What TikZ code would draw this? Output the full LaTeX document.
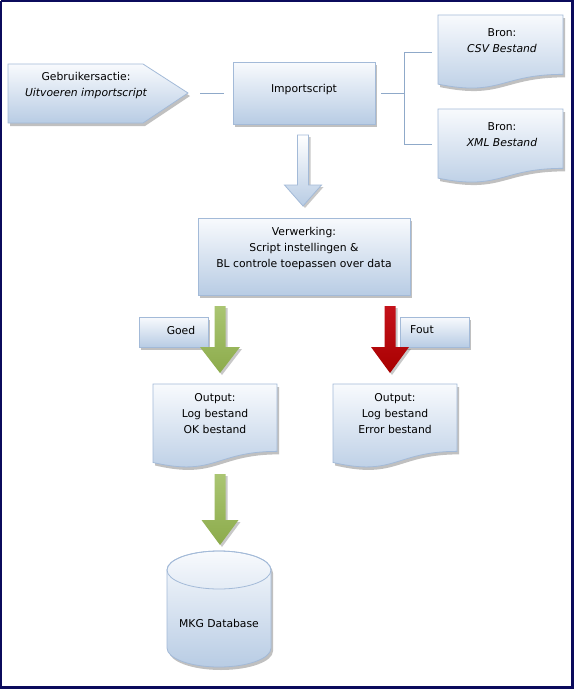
\documentclass[tikz,border=0pt]{standalone}
\usepackage{fontspec}
\setmainfont{DejaVu Sans}
\usetikzlibrary{shadows,calc}
\definecolor{navy}{HTML}{0B0B5C}
\definecolor{boxtop}{HTML}{F8FAFD}
\definecolor{boxbot}{HTML}{B8CCE4}
\definecolor{boxline}{HTML}{A3BAD8}
\definecolor{connline}{HTML}{8FA9C9}
\definecolor{okgreen}{HTML}{9BBB59}
\definecolor{okgreendark}{HTML}{8CAB4B}
\definecolor{errred}{HTML}{C4121A}
\definecolor{errreddark}{HTML}{A80000}
\newcommand\docpath[4]{(#1,#2) -- ({#1+#3},#2) -- ({#1+#3},{#2+0.802*#4}) .. controls ({#1+0.5*#3},{#2+0.802*#4}) and ({#1+0.5*#3},{#2+1.107*#4}) .. (#1,{#2+0.934*#4}) -- cycle}
\newcommand\downarrowpath[7]{({#1-#5},#2) -- ({#1+#5},#2) -- ({#1+#5},#3) -- ({#1+#6},#3) -- (#1,#4) -- ({#1-#6},#3) -- ({#1-#5},#3) -- cycle}
\begin{document}
\begin{tikzpicture}[x=1pt,y=-1pt,
  font=\fontsize{10.8}{16}\selectfont,
  shade box/.style={draw=boxline, line width=0.8pt, top color=boxtop, bottom color=boxbot,
    drop shadow={shadow xshift=2pt, shadow yshift=-3pt, opacity=0.35, fill=black!70}},
  box/.style={shade box, rectangle, inner sep=0pt},
  txt/.style={align=center, inner sep=0pt, text=black},
  conn/.style={draw=connline, line width=0.9pt},
  hollowarrow/.style={draw=boxline, line width=0.8pt, top color=white, bottom color=boxbot,
    drop shadow={shadow xshift=2pt, shadow yshift=-2pt, opacity=0.3, fill=black!70}},
  greenarrow/.style={top color=okgreen!85!white, bottom color=okgreendark, draw=none,
    drop shadow={shadow xshift=2pt, shadow yshift=-2pt, opacity=0.3, fill=black!70}},
  redarrow/.style={top color=errred, bottom color=errreddark, draw=none,
    drop shadow={shadow xshift=2pt, shadow yshift=-2pt, opacity=0.3, fill=black!70}}
]
\useasboundingbox (0,0) rectangle (574,689);
\fill[white] (0,0) rectangle (574,689);

% Gebruikersactie (pentagon)
\path[shade box] (8,64) -- (143,64) -- (188,93) -- (143,123) -- (8,123) -- cycle;
\coordinate (ptip) at (188,93);
\node[txt] (gebr) at (86,86) {Gebruikersactie:\\\itshape Uitvoeren importscript};

% Importscript
\node[box, minimum width=142pt, minimum height=62pt] (imp) at (304,93) {};
\node[txt] (imptxt) at (304,90) {Importscript};

% sources
\path[shade box] \docpath{438}{15}{125}{74};
\node[txt] (csv) at (502,41) {Bron:\\\itshape CSV Bestand};
\path[shade box] \docpath{438}{109}{125}{74};
\node[txt] (xml) at (502,135) {Bron:\\\itshape XML Bestand};

% connectors
\draw[conn, shorten <=12pt, shorten >=9pt] (ptip) -- (imp.west);
\coordinate (br) at (404,93);
\coordinate (csvl) at (432,52);
\coordinate (xmll) at (432,144);
\draw[conn, shorten <=6pt] (imp.east) -- (br);
\draw[conn] (br) |- (csvl);
\draw[conn] (br) |- (xmll);

% hollow arrow
\path[hollowarrow] \downarrowpath{303}{135}{185}{206}{5.5}{18.5}{};

% Verwerking
\node[box, minimum width=212pt, minimum height=77pt] (verw) at (304,256.5) {};
\node[txt] (verwtxt) at (304,249) {Verwerking:\\Script instellingen \&\\BL controle toepassen over data};

% Goed / Fout labels
\node[box, minimum width=69pt, minimum height=30pt] (goed) at (173.5,332) {};
\node[txt] (goedtxt) at (181,330) {Goed};
\node[box, minimum width=69pt, minimum height=30pt] (fout) at (434.5,332) {};
\node[txt] (fouttxt) at (422,330) {Fout};

% green and red arrows
\path[greenarrow] \downarrowpath{220}{306}{347}{373}{5.5}{20}{};
\path[redarrow] \downarrowpath{390}{306}{347}{373}{5.5}{19}{};

% outputs
\path[shade box] \docpath{153}{384}{124}{84};
\node[txt] (outok) at (215,414) {Output:\\Log bestand\\OK bestand};
\path[shade box] \docpath{333}{384}{124}{84};
\node[txt] (outerr) at (395,414) {Output:\\Log bestand\\Error bestand};

% green arrow 2
\path[greenarrow] \downarrowpath{220}{474}{520}{545}{5.5}{18.5}{};

% database cylinder
\path[shade box] (167,570) -- (167,648) arc[start angle=180, end angle=0, x radius=52, y radius=19]
  -- (271,570) arc[start angle=0, end angle=-180, x radius=52, y radius=19] -- cycle;
\draw[boxline, line width=0.8pt] (219,570) ellipse[x radius=52, y radius=19];
\node[txt] (db) at (219,623) {MKG Database};

% frame
\draw[navy, line width=2pt] (1,1) -- (573,1);
\draw[navy, line width=2pt] (1,1) -- (1,688);
\draw[navy, line width=3pt] (572.5,0) -- (572.5,689);
\draw[navy, line width=3pt] (0,687.5) -- (574,687.5);
\end{tikzpicture}
\end{document}
